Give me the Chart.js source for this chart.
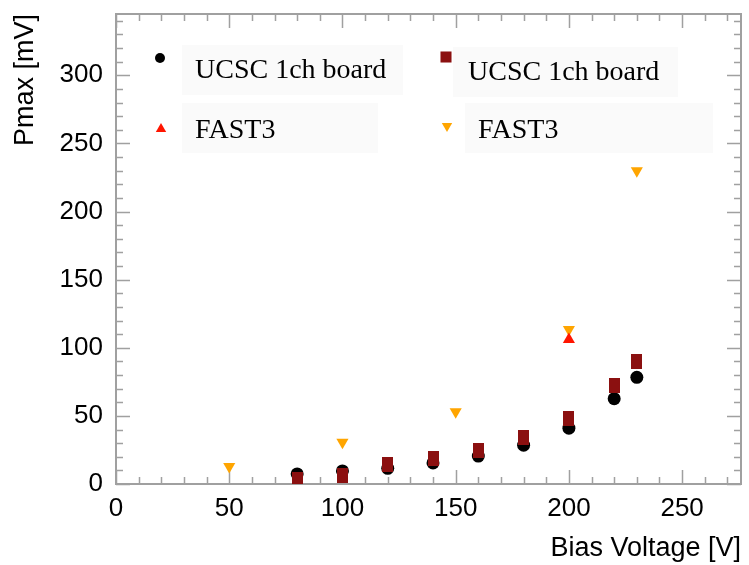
<!DOCTYPE html>
<html lang="en">
<head>
  <meta charset="UTF-8" />
  <title>Pmax vs Bias Voltage</title>
  <script src="https://cdn.jsdelivr.net/npm/chart.js"></script>
  <style>
    html, body {
      margin: 0;
      padding: 0;
      background: #ffffff;
    }
    #wrap {
      width: 749px;
      height: 565px;
    }
  </style>
</head>
<body>
  <div id="wrap"><canvas id="pmaxChart" width="749" height="565"></canvas></div>

  <script>
    // bias voltage points [V] and measured Pmax [mV]
    const ucscVoltsA = [80, 100, 120, 140, 160, 180, 200, 220, 230];
    const ucscPmaxA  = [7.4, 9.6, 11.5, 15.5, 20.5, 28.5, 41, 62.6, 78.3];

    const ucscVoltsB = [80, 100, 120, 140, 160, 180, 200, 220, 230];
    const ucscPmaxB  = [3.5, 6.6, 14, 18.4, 24.6, 34, 48, 72.6, 90.2];

    const fastVoltsA = [200];
    const fastPmaxA  = [106];

    const fastVoltsB = [50, 100, 150, 200, 230];
    const fastPmaxB  = [12.8, 30.7, 53, 113.5, 230];

    const xTicks = [0, 50, 100, 150, 200, 250];
    const yTicks = [0, 50, 100, 150, 200, 250, 300];

    const toPoints = (xs, ys) => xs.map((x, i) => ({ x: x, y: ys[i] }));

    const tickFont = { family: 'Liberation Sans, Arial, sans-serif', size: 26 };
    const titleFont = { family: 'Liberation Sans, Arial, sans-serif', size: 27 };
    const frameColor = '#a0a0a0';

    // ROOT draws its full square marker a little taller than wide
    const squareMarker = document.createElement('canvas');
    squareMarker.width = 11;
    squareMarker.height = 15;
    const sq = squareMarker.getContext('2d');
    sq.fillStyle = '#8b1010';
    sq.fillRect(0, 0, 11, 15);

    // ROOT style frame with inward major/minor ticks on all four sides
    const rootFrame = {
      id: 'rootFrame',
      beforeDatasetsDraw(chart) {
        const { ctx, chartArea: a, scales } = chart;
        const xs = scales.x, ys = scales.y;
        ctx.save();
        ctx.strokeStyle = frameColor;
        ctx.lineWidth = 1.5;
        ctx.beginPath();
        for (let v = 0; v <= xs.max; v += 10) {
          const px = Math.round(xs.getPixelForValue(v)) + 0.5;
          const len = v % 50 === 0 ? 14 : 7;
          ctx.moveTo(px, a.bottom); ctx.lineTo(px, a.bottom - len);
          ctx.moveTo(px, a.top); ctx.lineTo(px, a.top + len);
        }
        for (let v = 0; v <= ys.max; v += 10) {
          const py = Math.round(ys.getPixelForValue(v)) + 0.5;
          const len = v % 50 === 0 ? 14 : 7;
          ctx.moveTo(a.left, py); ctx.lineTo(a.left + len, py);
          ctx.moveTo(a.right, py); ctx.lineTo(a.right - len, py);
        }
        ctx.stroke();
        ctx.lineWidth = 2;
        ctx.strokeRect(a.left, a.top, a.right - a.left, a.bottom - a.top);
        ctx.restore();
      }
    };

    // two-column legend with pale boxes behind the entries
    const boxLegend = {
      id: 'boxLegend',
      afterDraw(chart) {
        const ctx = chart.ctx;
        const sets = chart.data.datasets;
        const slots = [
          { mx: 160, my: 58, tx: 195, ty: 78, box: [182, 45, 221, 50] },
          { mx: 446, my: 57, tx: 468, ty: 80, box: [453, 47, 225, 50] },
          { mx: 161, my: 129, tx: 195, ty: 138, box: [182, 103, 196, 50] },
          { mx: 447, my: 126, tx: 478, ty: 138, box: [465, 103, 248, 50] }
        ];
        ctx.save();
        slots.forEach((s) => {
          ctx.fillStyle = '#fafafa';
          ctx.fillRect(s.box[0], s.box[1], s.box[2], s.box[3]);
        });
        slots.forEach((s, i) => {
          const ds = sets[i];
          ctx.fillStyle = ds.markerColor;
          ctx.strokeStyle = ds.markerColor;
          Chart.helpers.drawPoint(ctx, {
            pointStyle: ds.legendStyle,
            radius: ds.legendRadius,
            rotation: ds.pointRotation || 0,
            borderWidth: 0
          }, s.mx, s.my);
          ctx.fillStyle = '#000';
          ctx.font = '28px "Liberation Serif", "Times New Roman", serif';
          ctx.textBaseline = 'alphabetic';
          ctx.fillText(ds.label, s.tx, s.ty);
        });
        ctx.restore();
      }
    };

    new Chart(document.getElementById('pmaxChart'), {
      type: 'scatter',
      data: {
        datasets: [
          {
            label: 'UCSC 1ch board',
            data: toPoints(ucscVoltsA, ucscPmaxA),
            pointStyle: 'circle',
            pointRadius: 6.5,
            legendStyle: 'circle',
            legendRadius: 5,
            markerColor: '#000000',
            backgroundColor: '#000000',
            borderWidth: 0,
            order: 4
          },
          {
            label: 'UCSC 1ch board',
            data: toPoints(ucscVoltsB, ucscPmaxB),
            pointStyle: squareMarker,
            pointRadius: 8,
            legendStyle: 'rect',
            legendRadius: 7.8,
            markerColor: '#8b1010',
            backgroundColor: '#8b1010',
            borderWidth: 0,
            order: 3
          },
          {
            label: 'FAST3',
            data: toPoints(fastVoltsA, fastPmaxA),
            pointStyle: 'triangle',
            pointRadius: 7,
            legendStyle: 'triangle',
            legendRadius: 6,
            markerColor: '#ff1500',
            backgroundColor: '#ff1500',
            borderWidth: 0,
            order: 1
          },
          {
            label: 'FAST3',
            data: toPoints(fastVoltsB, fastPmaxB),
            pointStyle: 'triangle',
            pointRotation: 180,
            pointRadius: 7,
            legendStyle: 'triangle',
            legendRadius: 6,
            markerColor: '#ffa500',
            backgroundColor: '#ffa500',
            borderWidth: 0,
            order: 2
          }
        ]
      },
      options: {
        responsive: false,
        animation: false,
        layout: { padding: { top: 14, right: 7, left: 0, bottom: 0 } },
        plugins: {
          legend: { display: false },
          tooltip: { enabled: false }
        },
        scales: {
          x: {
            type: 'linear',
            min: 0,
            max: 276,
            afterFit: (s) => { s.height = 81; s.paddingLeft = 0; s.paddingRight = 0; },
            afterBuildTicks: (s) => { s.ticks = xTicks.map(v => ({ value: v })); },
            grid: { display: false, drawTicks: false },
            border: { display: false },
            ticks: { font: tickFont, color: '#000', padding: 9, maxRotation: 0 },
            title: {
              display: true,
              text: 'Bias Voltage [V]',
              align: 'end',
              color: '#000',
              font: titleFont,
              padding: { top: 0, bottom: 0 }
            }
          },
          y: {
            type: 'linear',
            min: 0,
            max: 345,
            afterFit: (s) => { s.width = 116; s.paddingTop = 0; s.paddingBottom = 0; },
            afterBuildTicks: (s) => { s.ticks = yTicks.map(v => ({ value: v })); },
            grid: { display: false, drawTicks: false },
            border: { display: false },
            ticks: { font: tickFont, color: '#000', padding: 13 },
            title: {
              display: true,
              text: 'Pmax [mV]',
              align: 'end',
              color: '#000',
              font: titleFont,
              padding: { top: 9, bottom: 0 }
            }
          }
        }
      },
      plugins: [rootFrame, boxLegend]
    });
  </script>
</body>
</html>
